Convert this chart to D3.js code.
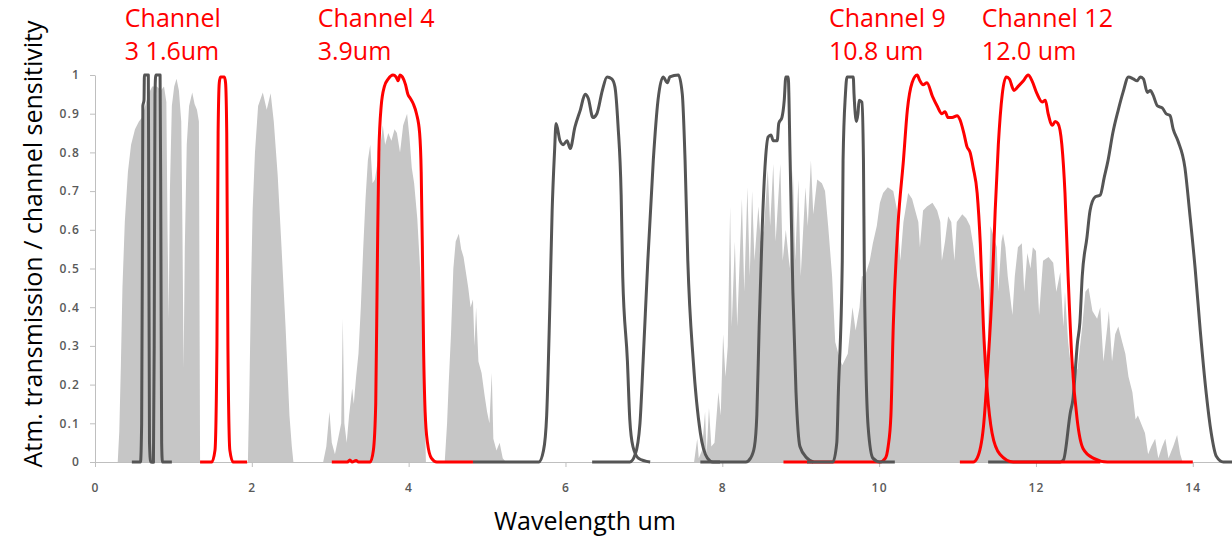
<!DOCTYPE html>
<html>
<head>
<meta charset="utf-8">
<script src="https://cdn.jsdelivr.net/npm/d3@7"></script>
<style>
  body { margin: 0; background: #fff; }
  svg { display: block; font-family: "Open Sans", sans-serif; }
</style>
</head>
<body>
<svg id="chart" width="1232" height="541"></svg>
<script>
// ticks
const xTicks = [0, 2, 4, 6, 8, 10, 12, 14];
const yTicks = [0, 0.1, 0.2, 0.3, 0.4, 0.5, 0.6, 0.7, 0.8, 0.9, 1];

// atmospheric transmission, [wavelength um, transmission]
const atmA = [[0.29,0],[0.31,0.08],[0.33,0.25],[0.35,0.45],[0.38,0.62],[0.42,0.75],[0.46,0.82],[0.51,0.86],[0.56,0.88],[0.60,0.89],[0.64,0.92],[0.68,0.95],[0.73,0.97],[0.79,0.97],[0.84,0.96],[0.88,0.97],[0.91,0.93],[0.925,0.6],[0.94,0.37],[0.955,0.7],[0.98,0.92],[1.01,0.97],[1.04,0.99],[1.07,0.96],[1.10,0.88],[1.115,0.6],[1.13,0.24],[1.145,0.55],[1.17,0.82],[1.20,0.92],[1.24,0.955],[1.27,0.925],[1.30,0.91],[1.325,0.88],[1.335,0.3],[1.34,0]];
const atmB = [[1.95,0],[1.97,0.2],[1.99,0.45],[2.01,0.65],[2.04,0.8],[2.08,0.92],[2.14,0.955],[2.19,0.91],[2.24,0.953],[2.28,0.88],[2.33,0.74],[2.38,0.55],[2.43,0.35],[2.48,0.12],[2.51,0.04],[2.53,0]];
const atmC = [[2.91,0],[2.95,0.04],[2.99,0.13],[3.02,0.05],[3.06,0.02],[3.10,0.06],[3.14,0.1],[3.16,0.37],[3.18,0.1],[3.21,0.05],[3.24,0.12],[3.28,0.19],[3.30,0.15],[3.33,0.22],[3.36,0.28],[3.39,0.40],[3.42,0.55],[3.45,0.68],[3.48,0.78],[3.51,0.82],[3.54,0.72],[3.57,0.73],[3.60,0.77],[3.63,0.80],[3.67,0.87],[3.70,0.82],[3.74,0.85],[3.78,0.83],[3.82,0.86],[3.85,0.85],[3.89,0.80],[3.93,0.87],[3.98,0.90],[4.01,0.84],[4.04,0.76],[4.07,0.72],[4.11,0.63],[4.14,0.52],[4.17,0.40],[4.19,0.28],[4.21,0.09],[4.22,0]];
const atmD = [[4.46,0],[4.49,0.1],[4.51,0.2],[4.54,0.33],[4.57,0.5],[4.60,0.57],[4.64,0.59],[4.67,0.55],[4.70,0.53],[4.73,0.49],[4.76,0.45],[4.79,0.40],[4.82,0.42],[4.84,0.30],[4.86,0.40],[4.89,0.26],[4.93,0.23],[4.97,0.17],[5.00,0.13],[5.03,0.10],[5.06,0.23],[5.08,0.06],[5.12,0.03],[5.16,0.05],[5.20,0.01],[5.24,0]];
const atmE = [[7.64,0],[7.68,0.06],[7.70,0.01],[7.74,0.03],[7.78,0.13],[7.80,0.02],[7.83,0.14],[7.86,0.04],[7.90,0.05],[7.95,0.18],[7.98,0.12],[8.01,0.33],[8.04,0.22],[8.07,0.30],[8.10,0.66],[8.12,0.35],[8.16,0.57],[8.19,0.35],[8.25,0.68],[8.28,0.44],[8.32,0.71],[8.35,0.48],[8.38,0.70],[8.41,0.52],[8.46,0.66],[8.49,0.57],[8.53,0.60],[8.58,0.755],[8.61,0.61],[8.65,0.77],[8.68,0.57],[8.74,0.77],[8.77,0.52],[8.81,0.60],[8.86,0.50],[8.90,0.755],[8.93,0.52],[8.97,0.73],[9.00,0.48],[9.06,0.71],[9.09,0.61],[9.13,0.78],[9.16,0.64],[9.21,0.73],[9.27,0.72],[9.31,0.70],[9.35,0.61],[9.40,0.48],[9.44,0.31],[9.48,0.28],[9.53,0.25],[9.60,0.28],[9.66,0.40],[9.70,0.34],[9.75,0.40],[9.78,0.48],[9.82,0.48],[9.88,0.52],[9.92,0.565],[9.97,0.61],[10.01,0.67],[10.05,0.695],[10.11,0.71],[10.18,0.70],[10.23,0.65],[10.27,0.52],[10.31,0.62],[10.37,0.695],[10.42,0.68],[10.46,0.65],[10.50,0.62],[10.52,0.555],[10.56,0.65],[10.61,0.66],[10.68,0.67],[10.74,0.65],[10.78,0.62],[10.80,0.52],[10.84,0.57],[10.88,0.635],[10.92,0.62],[10.96,0.52],[10.99,0.62],[11.06,0.64],[11.11,0.63],[11.16,0.61],[11.20,0.56],[11.25,0.48],[11.29,0.44],[11.33,0.35],[11.38,0.26],[11.42,0.61],[11.45,0.59],[11.50,0.555],[11.52,0.44],[11.56,0.57],[11.58,0.59],[11.61,0.555],[11.64,0.48],[11.70,0.38],[11.73,0.48],[11.77,0.555],[11.82,0.565],[11.85,0.44],[11.89,0.54],[11.93,0.50],[11.96,0.555],[12.00,0.545],[12.04,0.38],[12.09,0.52],[12.16,0.53],[12.22,0.515],[12.26,0.44],[12.31,0.49],[12.35,0.35],[12.37,0.44],[12.41,0.31],[12.46,0.22],[12.53,0.24],[12.59,0.35],[12.63,0.44],[12.67,0.45],[12.72,0.39],[12.78,0.37],[12.82,0.40],[12.86,0.26],[12.91,0.35],[12.93,0.39],[12.97,0.26],[13.01,0.33],[13.05,0.35],[13.10,0.31],[13.14,0.28],[13.18,0.22],[13.23,0.18],[13.27,0.11],[13.30,0.12],[13.36,0.09],[13.39,0.075],[13.43,0.02],[13.47,0.04],[13.52,0.06],[13.56,0.01],[13.61,0.04],[13.65,0.06],[13.69,0.01],[13.75,0.04],[13.80,0.07],[13.84,0.02],[13.87,0]];

// channel sensitivity curves, [wavelength um, sensitivity]
const ch1 = [[0.47,0],[0.58,0],[0.595,0.1],[0.605,0.6],[0.61,0.92],[0.625,0.935],[0.63,1],[0.68,1],[0.685,0.7],[0.695,0.05],[0.71,0],[0.76,0]];
const ch2 = [[0.72,0],[0.745,0],[0.755,0.3],[0.765,0.95],[0.775,1],[0.83,1],[0.84,0.6],[0.85,0.05],[0.86,0],[0.98,0]];
const ch3 = [[1.34,0],[1.49,0],[1.53,0.03],[1.555,0.3],[1.57,0.85],[1.585,0.98],[1.6,0.995],[1.65,0.995],[1.665,0.98],[1.68,0.85],[1.695,0.3],[1.72,0.03],[1.76,0],[1.94,0]];
const ch4 = [[3.02,0],[3.22,0],[3.25,0.005],[3.28,0],[3.33,0.004],[3.36,0],[3.51,0],[3.55,0.03],[3.58,0.15],[3.60,0.5],[3.62,0.8],[3.65,0.92],[3.69,0.97],[3.74,0.99],[3.80,1.0],[3.84,0.995],[3.865,0.985],[3.89,1.0],[3.92,0.995],[3.96,0.975],[3.99,0.95],[4.02,0.94],[4.06,0.925],[4.10,0.90],[4.14,0.85],[4.16,0.75],[4.175,0.55],[4.19,0.3],[4.21,0.13],[4.24,0.05],[4.29,0.01],[4.36,0],[4.82,0]];
const ch5 = [[4.82,0],[5.66,0],[5.72,0.03],[5.76,0.12],[5.80,0.4],[5.83,0.65],[5.86,0.8],[5.88,0.875],[5.93,0.83],[5.97,0.82],[6.02,0.83],[6.06,0.81],[6.12,0.865],[6.19,0.91],[6.25,0.95],[6.29,0.94],[6.35,0.89],[6.40,0.90],[6.47,0.96],[6.53,0.995],[6.59,0.99],[6.63,0.97],[6.67,0.87],[6.71,0.69],[6.73,0.48],[6.79,0.26],[6.82,0.11],[6.86,0.04],[6.93,0.01],[7.08,0]];
const ch6 = [[6.34,0],[6.82,0],[6.89,0.02],[6.95,0.1],[6.99,0.26],[7.05,0.52],[7.12,0.78],[7.18,0.935],[7.245,0.995],[7.30,0.98],[7.33,0.995],[7.44,1.0],[7.49,0.95],[7.525,0.78],[7.56,0.52],[7.63,0.26],[7.72,0.075],[7.81,0.01],[7.88,0],[7.97,0]];
const ch7 = [[7.72,0],[8.30,0],[8.36,0.01],[8.41,0.04],[8.44,0.12],[8.47,0.35],[8.51,0.61],[8.55,0.78],[8.585,0.84],[8.62,0.845],[8.65,0.83],[8.70,0.83],[8.72,0.875],[8.76,0.89],[8.79,0.935],[8.81,0.995],[8.84,0.995],[8.865,0.78],[8.90,0.44],[8.94,0.18],[8.99,0.04],[9.08,0.01],[9.16,0]];
const ch8 = [[9.08,0],[9.41,0],[9.46,0.05],[9.48,0.18],[9.53,0.52],[9.54,0.78],[9.57,0.95],[9.59,0.995],[9.67,0.995],[9.68,0.95],[9.71,0.88],[9.73,0.90],[9.745,0.935],[9.78,0.93],[9.80,0.78],[9.81,0.52],[9.83,0.26],[9.86,0.09],[9.92,0.01],[10.01,0],[10.20,0]];
const ch9 = [[8.78,0],[10.01,0],[10.08,0.01],[10.115,0.04],[10.15,0.12],[10.18,0.35],[10.24,0.61],[10.31,0.78],[10.36,0.91],[10.42,0.98],[10.485,1.0],[10.52,0.985],[10.56,0.975],[10.61,0.98],[10.68,0.945],[10.74,0.92],[10.80,0.90],[10.84,0.905],[10.88,0.89],[10.93,0.89],[10.995,0.895],[11.03,0.885],[11.08,0.85],[11.12,0.815],[11.16,0.80],[11.20,0.76],[11.25,0.695],[11.29,0.565],[11.33,0.35],[11.38,0.18],[11.44,0.075],[11.54,0.02],[11.71,0],[12.82,0]];
const ch12 = [[11.03,0],[11.20,0],[11.25,0.01],[11.33,0.09],[11.39,0.26],[11.44,0.44],[11.48,0.65],[11.52,0.82],[11.57,0.95],[11.62,0.995],[11.66,0.99],[11.72,0.96],[11.77,0.97],[11.84,0.985],[11.90,1.0],[11.95,0.985],[12.01,0.953],[12.08,0.93],[12.12,0.935],[12.155,0.90],[12.21,0.87],[12.245,0.88],[12.28,0.875],[12.33,0.82],[12.37,0.695],[12.41,0.48],[12.46,0.26],[12.525,0.11],[12.60,0.035],[12.73,0.01],[12.91,0],[14.0,0]];
const ch13 = [[11.39,0],[12.31,0],[12.35,0.005],[12.44,0.13],[12.47,0.16],[12.53,0.31],[12.56,0.36],[12.59,0.48],[12.65,0.58],[12.69,0.65],[12.755,0.685],[12.82,0.69],[12.87,0.735],[12.92,0.78],[12.98,0.85],[13.05,0.91],[13.11,0.955],[13.18,0.995],[13.24,0.99],[13.29,0.985],[13.33,0.995],[13.37,0.99],[13.42,0.955],[13.46,0.96],[13.49,0.95],[13.55,0.92],[13.61,0.915],[13.66,0.90],[13.71,0.895],[13.75,0.86],[13.81,0.83],[13.90,0.76],[13.96,0.645],[14.03,0.50],[14.095,0.34],[14.17,0.18],[14.235,0.075],[14.30,0.015],[14.39,0],[14.5,0]];

const atmSeries = [atmA, atmB, atmC, atmD, atmE];
const greySeries = [ch1, ch2, ch5, ch6, ch7, ch13];
const redSeries = [ch3, ch4, ch9, ch12];
const topSeries = [ch8];

const channelLabels = [
  { at: 0.38, lines: ["Channel", "3 1.6um"] },
  { at: 2.84, lines: ["Channel 4", "3.9um"] },
  { at: 9.36, lines: ["Channel 9", "10.8 um"] },
  { at: 11.31, lines: ["Channel 12", "12.0 um"] }
];

const svg = d3.select("#chart");

const x = d3.scaleLinear().domain([0, 14.5]).range([95, 1232]);
const y = d3.scaleLinear().domain([0, 1]).range([462, 75]);

// axes
const xAxis = svg.append("g")
  .attr("transform", `translate(0,${y(0)})`)
  .call(d3.axisBottom(x).tickValues(xTicks).tickSize(5).tickSizeOuter(0).tickPadding(16).tickFormat(d3.format("d")));

const yAxis = svg.append("g")
  .attr("transform", `translate(${x(0)},0)`)
  .call(d3.axisLeft(y).tickValues(yTicks).tickSize(5).tickSizeOuter(0).tickPadding(10).tickFormat(d => d3.format("~g")(d)));

[xAxis, yAxis].forEach(ax => {
  ax.select(".domain").attr("stroke", "#bfbfbf");
  ax.selectAll(".tick line").attr("stroke", "#bfbfbf");
  ax.selectAll(".tick text")
    .attr("fill", "#595959")
    .attr("font-size", "12px")
    .attr("font-weight", 600)
    .attr("letter-spacing", "1.2px")
    .attr("font-family", "'Open Sans', sans-serif");
});

// atmosphere
const area = d3.area()
  .x(d => x(d[0]))
  .y0(y(0))
  .y1(d => y(d[1]));

svg.append("g")
  .selectAll("path")
  .data(atmSeries)
  .enter()
  .append("path")
  .attr("d", area)
  .attr("fill", "#c6c6c6");

// channels
const line = d3.line()
  .x(d => x(d[0]))
  .y(d => y(d[1]))
  .curve(d3.curveMonotoneX);

function drawLines(series, colour) {
  svg.append("g")
    .selectAll("path")
    .data(series)
    .enter()
    .append("path")
    .attr("d", line)
    .attr("fill", "none")
    .attr("stroke", colour)
    .attr("stroke-width", 3)
    .attr("stroke-linejoin", "round");
}

drawLines(greySeries, "#555555");
drawLines(redSeries, "#ff0000");
drawLines(topSeries, "#555555");

// labels
const labels = svg.append("g")
  .selectAll("text")
  .data(channelLabels)
  .enter()
  .append("text")
  .attr("x", d => x(d.at))
  .attr("fill", "#ff0000")
  .attr("font-size", "25px");

labels.selectAll("tspan")
  .data(d => d.lines.map(t => ({ t: t, at: d.at })))
  .enter()
  .append("tspan")
  .attr("x", d => x(d.at))
  .attr("y", (d, i) => 27 + i * 33)
  .text(d => d.t);

svg.append("text")
  .attr("x", 585)
  .attr("y", 530)
  .attr("text-anchor", "middle")
  .attr("font-size", "25px")
  .attr("fill", "#000")
  .text("Wavelength um");

svg.append("text")
  .attr("transform", "translate(42,244) rotate(-90)")
  .attr("text-anchor", "middle")
  .attr("font-size", "25px")
  .attr("fill", "#000")
  .text("Atm. transmission / channel sensitivity");
</script>
</body>
</html>
